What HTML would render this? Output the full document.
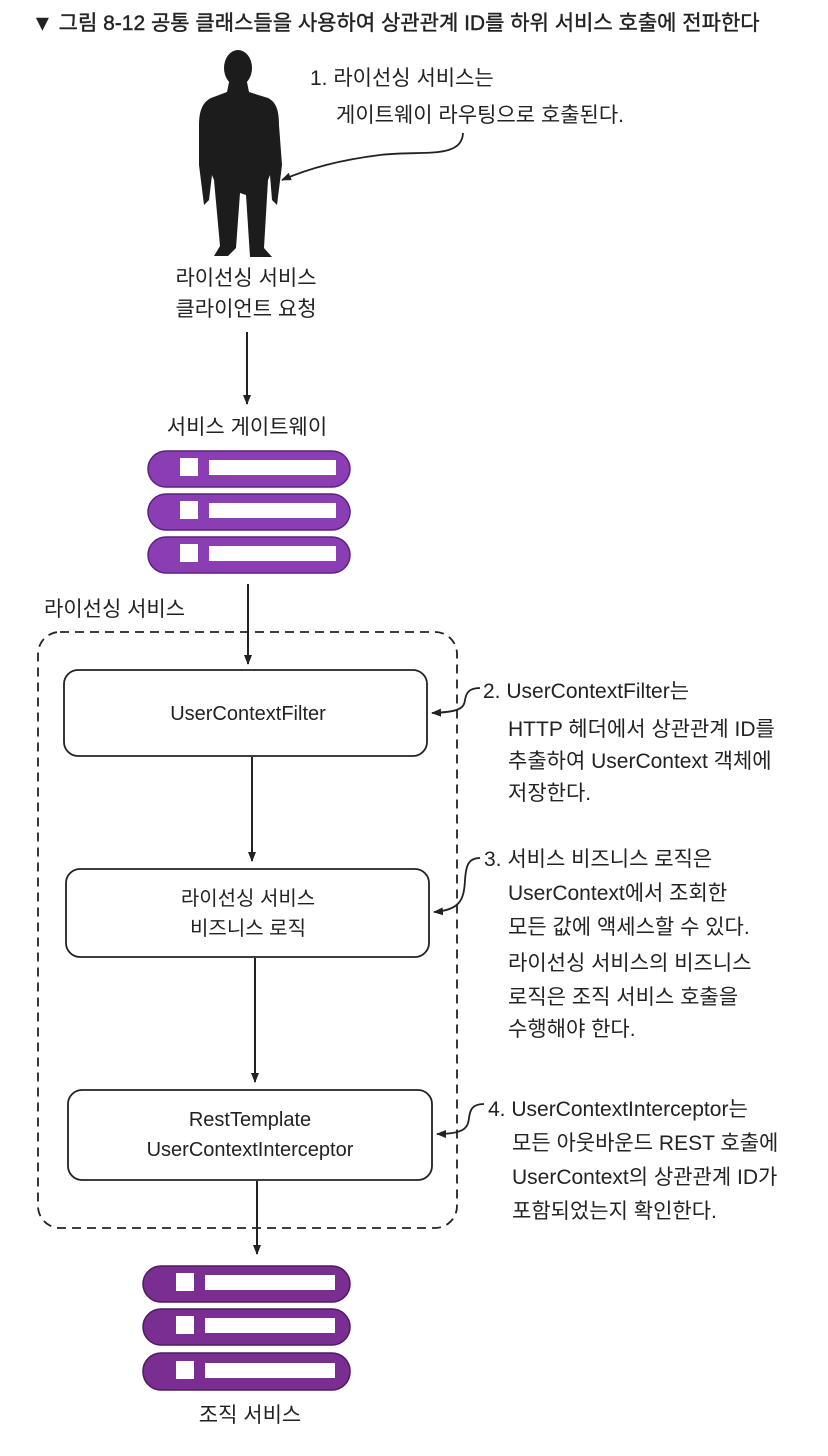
<!DOCTYPE html>
<html><head><meta charset="utf-8"><style>
html,body{margin:0;padding:0;background:#fff;}
svg{display:block;}
text{font-family:"Liberation Sans","Noto Sans CJK KR",sans-serif;fill:#222;}
</style></head><body>
<svg width="828" height="1456" viewBox="0 0 828 1456" xmlns="http://www.w3.org/2000/svg">
<defs>
<marker id="ah" markerWidth="10" markerHeight="10" refX="9" refY="5" orient="auto" markerUnits="userSpaceOnUse">
<path d="M0,1 L10,5 L0,9 Z" fill="#222"/></marker>
</defs>
<!-- header -->
<text x="32" y="30" font-size="21" stroke="#222" stroke-width="0.4">▼ 그림 8-12 공통 클래스들을 사용하여 상관관계 ID를 하위 서비스 호출에 전파한다</text>

<!-- person -->
<g fill="#1c1c1c">
<ellipse cx="238" cy="68" rx="14" ry="18"/>
<path d="M229,82 L247,82 L249,92 L268,98 C276,102 279,110 279,125 L282,165 L277,205 L272,200 L270,175 L268,180 L264,248 L272,257 L250,257 L246,195 L240,193 L236,248 L228,256 L214,256 L220,246 L214,180 L212,175 L209,200 L204,205 L199,165 L199,125 C199,110 203,102 211,98 L227,92 Z"/>
</g>
<!-- callout 1 -->
<text x="310" y="85" font-size="21">1. 라이선싱 서비스는</text>
<text x="336" y="122" font-size="21">게이트웨이 라우팅으로 호출된다.</text>
<path d="M463,133 C462,160 420,150 380,155 C340,160 310,168 282,180" fill="none" stroke="#222" stroke-width="1.8" marker-end="url(#ah)"/>

<text x="246" y="285" font-size="21" text-anchor="middle">라이선싱 서비스</text>
<text x="246" y="316" font-size="21" text-anchor="middle">클라이언트 요청</text>
<line x1="247" y1="332" x2="247" y2="404" stroke="#222" stroke-width="2" marker-end="url(#ah)"/>
<text x="247" y="434" font-size="21" text-anchor="middle">서비스 게이트웨이</text>

<!-- gateway icons -->
<g fill="#8b3db3" stroke="#5e2080" stroke-width="1.5">
<rect x="148" y="451" width="202" height="36" rx="18"/>
<rect x="148" y="494" width="202" height="36" rx="18"/>
<rect x="148" y="537" width="202" height="36" rx="18"/>
</g>
<g fill="#fff">
<rect x="180" y="458" width="18" height="18"/><rect x="209" y="460" width="127" height="15"/>
<rect x="180" y="501" width="18" height="18"/><rect x="209" y="503" width="127" height="15"/>
<rect x="180" y="544" width="18" height="18"/><rect x="209" y="546" width="127" height="15"/>
</g>
<line x1="248" y1="584" x2="248" y2="664" stroke="#222" stroke-width="2" marker-end="url(#ah)"/>

<text x="44" y="616" font-size="21">라이선싱 서비스</text>
<rect x="38" y="632" width="419" height="596" rx="22" fill="none" stroke="#222" stroke-width="1.8" stroke-dasharray="9,6"/>

<!-- boxes -->
<g fill="#fff" stroke="#222" stroke-width="1.8">
<rect x="64" y="670" width="363" height="86" rx="14"/>
<rect x="66" y="869" width="363" height="88" rx="14"/>
<rect x="68" y="1090" width="364" height="90" rx="14"/>
</g>
<text x="248" y="720" font-size="20" text-anchor="middle">UserContextFilter</text>
<text x="248" y="905" font-size="20" text-anchor="middle">라이선싱 서비스</text>
<text x="248" y="935" font-size="20" text-anchor="middle">비즈니스 로직</text>
<text x="250" y="1126" font-size="20" text-anchor="middle">RestTemplate</text>
<text x="250" y="1156" font-size="20" text-anchor="middle">UserContextInterceptor</text>

<line x1="252" y1="757" x2="252" y2="861" stroke="#222" stroke-width="2" marker-end="url(#ah)"/>
<line x1="255" y1="958" x2="255" y2="1082" stroke="#222" stroke-width="2" marker-end="url(#ah)"/>
<line x1="257" y1="1181" x2="257" y2="1254" stroke="#222" stroke-width="2" marker-end="url(#ah)"/>

<!-- callout hooks -->
<g fill="none" stroke="#222" stroke-width="1.8">
<path d="M480,688 C468,688 466,694 465,700 C464,708 460,712 432,713" marker-end="url(#ah)"/>
<path d="M480,858 C468,858 466,866 465,880 C464,900 460,910 434,912" marker-end="url(#ah)"/>
<path d="M484,1104 C472,1104 470,1110 469,1118 C468,1128 464,1134 437,1134" marker-end="url(#ah)"/>
</g>
<g font-size="21">
<text x="483" y="698">2. UserContextFilter는</text>
<text x="508" y="736">HTTP 헤더에서 상관관계 ID를</text>
<text x="508" y="768">추출하여 UserContext 객체에</text>
<text x="508" y="800">저장한다.</text>

<text x="484" y="866">3. 서비스 비즈니스 로직은</text>
<text x="508" y="900">UserContext에서 조회한</text>
<text x="508" y="934">모든 값에 액세스할 수 있다.</text>
<text x="508" y="970">라이선싱 서비스의 비즈니스</text>
<text x="508" y="1004">로직은 조직 서비스 호출을</text>
<text x="508" y="1036">수행해야 한다.</text>

<text x="488" y="1116">4. UserContextInterceptor는</text>
<text x="512" y="1150">모든 아웃바운드 REST 호출에</text>
<text x="512" y="1184">UserContext의 상관관계 ID가</text>
<text x="512" y="1218">포함되었는지 확인한다.</text>
</g>

<!-- org icons -->
<g fill="#7b2e92" stroke="#4e1a60" stroke-width="1.5">
<rect x="143" y="1266" width="207" height="36" rx="18"/>
<rect x="143" y="1309" width="207" height="36" rx="18"/>
<rect x="143" y="1353" width="207" height="37" rx="18"/>
</g>
<g fill="#fff">
<rect x="176" y="1273" width="18" height="18"/><rect x="205" y="1275" width="130" height="15"/>
<rect x="176" y="1316" width="18" height="18"/><rect x="205" y="1318" width="130" height="15"/>
<rect x="176" y="1361" width="18" height="18"/><rect x="205" y="1363" width="130" height="15"/>
</g>
<text x="250" y="1422" font-size="21" text-anchor="middle">조직 서비스</text>
</svg>
</body></html>
